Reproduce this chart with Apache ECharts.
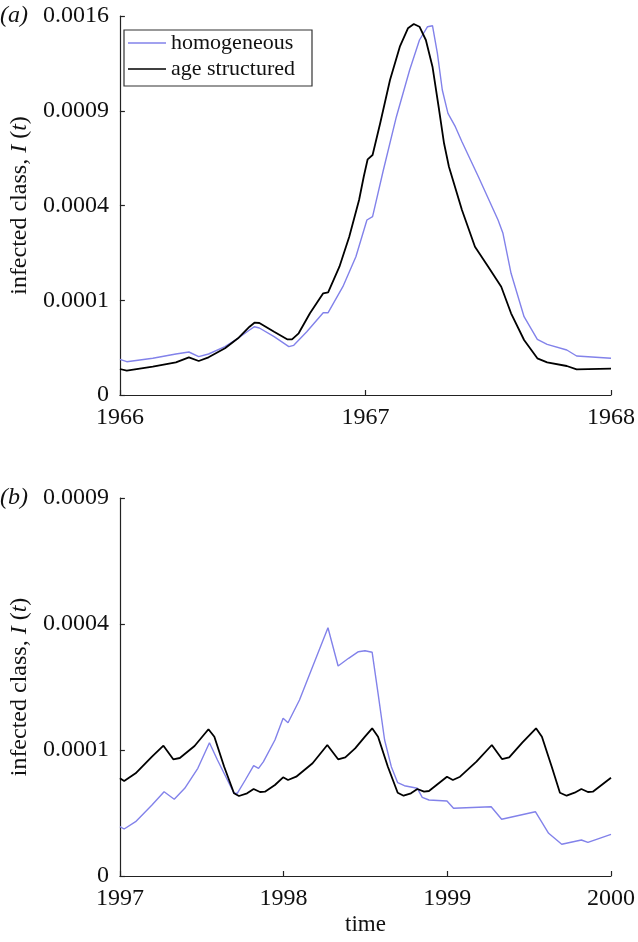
<!DOCTYPE html>
<html>
<head>
<meta charset="utf-8">
<script src="https://cdn.jsdelivr.net/npm/echarts@6/dist/echarts.min.js"></script>
<style>
  html, body { margin: 0; padding: 0; background: #fff; }
  #chart { width: 638px; height: 942px; }
</style>
</head>
<body>
<div id="chart"></div>
<script>
// panel (a): 1966-1968
const timeA_hom = [1966.0, 1966.028, 1966.134, 1966.228, 1966.281, 1966.321, 1966.361, 1966.428, 1966.481, 1966.528, 1966.548, 1966.568, 1966.628, 1966.688, 1966.708, 1966.761, 1966.828, 1966.848, 1966.908, 1966.961, 1967.006, 1967.029, 1967.073, 1967.126, 1967.18, 1967.22, 1967.253, 1967.273, 1967.293, 1967.313, 1967.336, 1967.366, 1967.393, 1967.46, 1967.54, 1967.56, 1967.593, 1967.646, 1967.7, 1967.74, 1967.82, 1967.86, 1968.0]
const valA_hom = [1.42e-5, 1.235e-5, 1.5e-5, 1.873e-5, 2.06e-5, 1.634e-5, 1.873e-5, 2.599e-5, 3.581e-5, 4.706e-5, 5.196e-5, 5.0e-5, 3.786e-5, 2.599e-5, 2.751e-5, 4.463e-5, 7.545e-5, 7.545e-5, 1.3065e-4, 2.1305e-4, 3.411e-4, 3.541e-4, 5.639e-4, 8.627e-4, 1.1765e-3, 1.4038e-3, 1.511e-3, 1.5192e-3, 1.3005e-3, 1.0362e-3, 8.839e-4, 8.019e-4, 7.147e-4, 5.308e-4, 3.411e-4, 2.913e-4, 1.65e-4, 6.829e-5, 3.456e-5, 2.863e-5, 2.256e-5, 1.694e-5, 1.5e-5]

const timeA_age = [1966.0, 1966.028, 1966.134, 1966.228, 1966.281, 1966.321, 1966.361, 1966.428, 1966.481, 1966.528, 1966.548, 1966.568, 1966.628, 1966.681, 1966.701, 1966.728, 1966.774, 1966.828, 1966.848, 1966.894, 1966.934, 1966.974, 1966.993, 1967.009, 1967.029, 1967.06, 1967.1, 1967.14, 1967.173, 1967.197, 1967.22, 1967.246, 1967.273, 1967.3, 1967.32, 1967.34, 1967.393, 1967.446, 1967.5, 1967.553, 1967.593, 1967.646, 1967.7, 1967.74, 1967.82, 1967.86, 1968.0]
const valA_age = [7.53e-6, 6.58e-6, 8.92e-6, 1.191e-5, 1.583e-5, 1.288e-5, 1.583e-5, 2.429e-5, 3.581e-5, 5.196e-5, 5.823e-5, 5.774e-5, 4.463e-5, 3.456e-5, 3.456e-5, 4.241e-5, 7.435e-5, 1.152e-4, 1.175e-4, 1.834e-4, 2.791e-4, 4.236e-4, 5.308e-4, 6.188e-4, 6.416e-4, 8.223e-4, 1.1053e-3, 1.3513e-3, 1.4978e-3, 1.5332e-3, 1.511e-3, 1.4038e-3, 1.2006e-3, 9.047e-4, 7.057e-4, 5.806e-4, 3.812e-4, 2.45e-4, 1.834e-4, 1.3065e-4, 7.435e-5, 3.37e-5, 1.5e-5, 1.191e-5, 9.37e-6, 7.36e-6, 7.7e-6]

// panel (b): 1997-2000
const timeB_hom = [1997.0, 1997.026, 1997.096, 1997.196, 1997.27, 1997.332, 1997.396, 1997.476, 1997.547, 1997.596, 1997.697, 1997.717, 1997.766, 1997.817, 1997.847, 1997.877, 1997.947, 1997.997, 1998.027, 1998.097, 1998.177, 1998.271, 1998.333, 1998.397, 1998.457, 1998.497, 1998.541, 1998.577, 1998.617, 1998.658, 1998.697, 1998.738, 1998.817, 1998.847, 1998.888, 1998.998, 1999.038, 1999.268, 1999.332, 1999.538, 1999.619, 1999.699, 1999.819, 1999.859, 2000.0]
const valB_hom = [1.531e-5, 1.391e-5, 1.857e-5, 3.175e-5, 4.476e-5, 3.705e-5, 4.844e-5, 7.306e-5, 1.1192e-4, 8.475e-5, 4.308e-5, 4.308e-5, 5.805e-5, 7.663e-5, 7.306e-5, 8.229e-5, 1.165e-4, 1.5665e-4, 1.4803e-4, 1.9511e-4, 2.7593e-4, 3.8834e-4, 2.7778e-4, 2.9852e-4, 3.169e-4, 3.1973e-4, 3.152e-4, 2.1025e-4, 1.165e-4, 7.525e-5, 5.483e-5, 5.136e-5, 4.844e-5, 3.901e-5, 3.638e-5, 3.543e-5, 2.887e-5, 3.025e-5, 2.025e-5, 2.604e-5, 1.148e-5, 6.33e-6, 8.16e-6, 7.15e-6, 1.095e-5]

const timeB_age = [1997.0, 1997.026, 1997.096, 1997.196, 1997.266, 1997.326, 1997.366, 1997.456, 1997.541, 1997.577, 1997.637, 1997.697, 1997.727, 1997.777, 1997.817, 1997.856, 1997.886, 1997.947, 1997.997, 1998.027, 1998.077, 1998.177, 1998.267, 1998.333, 1998.377, 1998.437, 1998.497, 1998.541, 1998.577, 1998.637, 1998.697, 1998.733, 1998.778, 1998.817, 1998.858, 1998.888, 1998.998, 1999.034, 1999.078, 1999.178, 1999.272, 1999.334, 1999.378, 1999.458, 1999.542, 1999.578, 1999.638, 1999.688, 1999.729, 1999.778, 1999.819, 1999.859, 1999.889, 2000.0]
const valB_age = [6.012e-5, 5.685e-5, 6.644e-5, 8.965e-5, 1.0694e-4, 8.578e-5, 8.77e-5, 1.0645e-4, 1.3556e-4, 1.2223e-4, 7.525e-5, 4.308e-5, 4.031e-5, 4.308e-5, 4.768e-5, 4.444e-5, 4.476e-5, 5.216e-5, 6.136e-5, 5.805e-5, 6.211e-5, 8.0e-5, 1.081e-4, 8.578e-5, 8.875e-5, 1.0272e-4, 1.2223e-4, 1.3741e-4, 1.2223e-4, 7.525e-5, 4.371e-5, 4.061e-5, 4.308e-5, 4.768e-5, 4.476e-5, 4.551e-5, 6.211e-5, 5.805e-5, 6.211e-5, 8.229e-5, 1.081e-4, 8.622e-5, 8.875e-5, 1.1192e-4, 1.3741e-4, 1.2223e-4, 7.525e-5, 4.371e-5, 4.061e-5, 4.371e-5, 4.768e-5, 4.444e-5, 4.476e-5, 6.087e-5]

const yTicksA = [0, 0.0001, 0.0004, 0.0009, 0.0016]
const yTicksB = [0, 0.0001, 0.0004, 0.0009]
const xTicksA = [1966, 1967, 1968]
const xTicksB = [1997, 1998, 1999, 2000]

const BLUE = '#8282ea'
const BLACK = '#000'
const FONT = 'Liberation Serif'

// y axis is square-root scaled, so plot sqrt(I) and label with squares
const toPts = (ts, vs) => ts.map((t, i) => [t, Math.sqrt(vs[i])])
const sqLabel = (v) => {
  const sq = Math.round(v * v * 1e4) / 1e4
  return sq === 0 ? '0' : sq.toFixed(4)
}

const chart = echarts.init(document.getElementById('chart'))

const axisCommon = {
  axisLine: { lineStyle: { color: '#222', width: 1.2 } },
  axisTick: { inside: true, length: 5, lineStyle: { color: '#222', width: 1.2 } },
  splitLine: { show: false },
  axisLabel: { color: '#111', fontFamily: FONT, fontSize: 24 }
}

const xAxisFor = (ticks, gridIndex, name) => ({
  ...axisCommon,
  type: 'value',
  gridIndex: gridIndex,
  min: ticks[0],
  max: ticks[ticks.length - 1],
  interval: 1,
  axisLabel: { ...axisCommon.axisLabel, margin: 11, formatter: (v) => String(v) },
  name: name || '',
  nameLocation: 'middle',
  nameGap: 37,
  nameTextStyle: { color: '#111', fontFamily: FONT, fontSize: 23 }
})

const yAxisFor = (ticks, gridIndex) => ({
  ...axisCommon,
  type: 'value',
  gridIndex: gridIndex,
  min: 0,
  max: Math.sqrt(ticks[ticks.length - 1]),
  interval: 0.01,
  axisLabel: { ...axisCommon.axisLabel, margin: 11, formatter: sqLabel },
  name: '{n|infected class, }{i|I}{n| (}{i|t}{n|)}',
  nameLocation: 'middle',
  nameRotate: 90,
  nameGap: 86,
  nameTextStyle: {
    rich: {
      n: { color: '#111', fontFamily: FONT, fontSize: 24 },
      i: { color: '#111', fontFamily: FONT, fontSize: 24, fontStyle: 'italic' }
    }
  }
})

const lineSeries = (name, color, width, xi, pts) => ({
  name: name,
  type: 'line',
  xAxisIndex: xi,
  yAxisIndex: xi,
  data: pts,
  symbol: 'none',
  smooth: false,
  silent: true,
  lineStyle: { color: color, width: width },
  itemStyle: { color: color }
})

const option = {
  backgroundColor: '#fff',
  animation: false,
  grid: [
    { left: 112, top: 16, width: 500, height: 379 },
    { left: 112.7, top: 498, width: 499.6, height: 378 }
  ],
  xAxis: [xAxisFor(xTicksA, 0), xAxisFor(xTicksB, 1, 'time')],
  yAxis: [yAxisFor(yTicksA, 0), yAxisFor(yTicksB, 1)],
  legend: {
    data: ['homogeneous', 'age structured'],
    orient: 'vertical',
    left: 124,
    top: 30,
    padding: [1, 17, 5, 4],
    itemGap: 2,
    itemWidth: 38,
    itemHeight: 1.6,
    icon: 'rect',
    borderColor: '#333',
    borderWidth: 1.2,
    textStyle: { color: '#111', fontFamily: FONT, fontSize: 22, lineHeight: 24 }
  },
  graphic: [
    { type: 'text', left: 0, top: 4, style: { text: '(a)', font: 'italic 24px "Liberation Serif"', fill: '#111' } },
    { type: 'text', left: 0, top: 486, style: { text: '(b)', font: 'italic 24px "Liberation Serif"', fill: '#111' } }
  ],
  series: [
    lineSeries('homogeneous', BLUE, 1.4, 0, toPts(timeA_hom, valA_hom)),
    lineSeries('age structured', BLACK, 1.8, 0, toPts(timeA_age, valA_age)),
    lineSeries('homogeneous', BLUE, 1.4, 1, toPts(timeB_hom, valB_hom)),
    lineSeries('age structured', BLACK, 1.8, 1, toPts(timeB_age, valB_age))
  ]
}

chart.setOption(option)
</script>
</body>
</html>
